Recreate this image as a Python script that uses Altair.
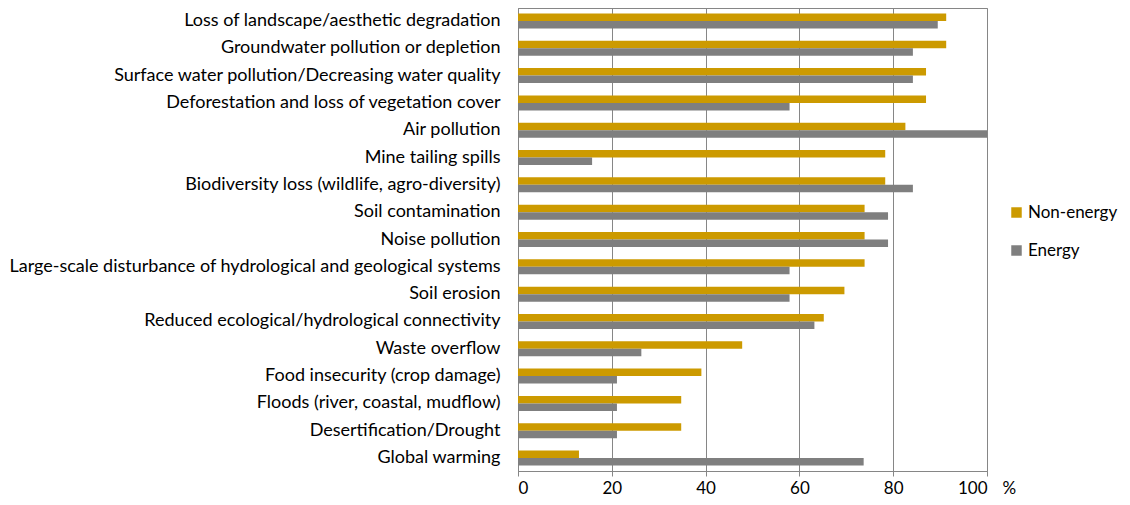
import altair as alt
import pandas as pd

categories = [
    "Loss of landscape/aesthetic degradation",
    "Groundwater pollution or depletion",
    "Surface water pollution/Decreasing water quality",
    "Deforestation and loss of vegetation cover",
    "Air pollution ",
    "Mine tailing spills",
    "Biodiversity loss (wildlife, agro-diversity)",
    "Soil contamination",
    "Noise pollution",
    "Large-scale disturbance of hydrological and geological systems",
    "Soil erosion",
    "Reduced ecological/hydrological connectivity",
    "Waste overflow",
    "Food insecurity (crop damage)",
    "Floods (river, coastal, mudflow)",
    "Desertification/Drought",
    "Global warming",
]
non_energy = [91.3, 91.3, 87.0, 87.0, 82.6, 78.3, 78.3, 73.9, 73.9, 73.9, 69.6, 65.2, 47.8, 39.1, 34.8, 34.8, 13.0]
energy = [89.5, 84.2, 84.2, 57.9, 100.0, 15.8, 84.2, 78.9, 78.9, 57.9, 57.9, 63.2, 26.3, 21.1, 21.1, 21.1, 73.7]
series = ["Non-energy", "Energy"]
colors = ["#cc9a00", "#7f7f7f"]
x_ticks = [0, 20, 40, 60, 80, 100]

rows = []
for c, ne, e in zip(categories, non_energy, energy):
    rows.append({"category": c, "series": "Non-energy", "value": ne})
    rows.append({"category": c, "series": "Energy", "value": e})
df = pd.DataFrame(rows)

FONT = "Lato"
W, H = 469, 463

chart = alt.Chart(df).mark_bar(size=7.5).encode(
    x=alt.X("value:Q",
            scale=alt.Scale(domain=[0, 100], nice=False),
            axis=alt.Axis(values=x_ticks, grid=True, gridColor="#868686", gridWidth=1,
                          domainColor="#868686", tickColor="#868686", tickSize=5,
                          labelFontSize=17, labelPadding=4, labelColor="#000000",
                          labelFont=FONT,
                          title="%", titleFont=FONT, titleFontSize=17, titleFontWeight="normal",
                          titleColor="#000000", titleX=W + 15, titleY=9,
                          titleAlign="left", titleBaseline="top", titleAnchor="start")),
    y=alt.Y("category:N", sort=categories,
            scale=alt.Scale(paddingInner=0.45, paddingOuter=0.2),
            axis=alt.Axis(title=None, ticks=False, labelPadding=18, labelFontSize=18,
                          labelFont=FONT, labelColor="#000000", labelLimit=600,
                          domainColor="#868686")),
    yOffset=alt.YOffset("series:N", sort=series),
    color=alt.Color("series:N", sort=series,
                    scale=alt.Scale(domain=series, range=colors),
                    legend=alt.Legend(title=None, orient="none", legendX=490, legendY=196,
                                      symbolType="square", symbolSize=110, symbolStrokeWidth=0,
                                      labelFontSize=17, labelFont=FONT, labelColor="#000000",
                                      rowPadding=20, labelOffset=3)),
).properties(
    width=W, height=H,
    autosize=alt.AutoSizeParams(type="none"),
    padding={"left": 510, "top": 0, "right": 135, "bottom": 26},
).configure_view(
    stroke="#868686", strokeWidth=1
)

chart.save("out.html", embed_options={"renderer": "svg", "actions": False})
